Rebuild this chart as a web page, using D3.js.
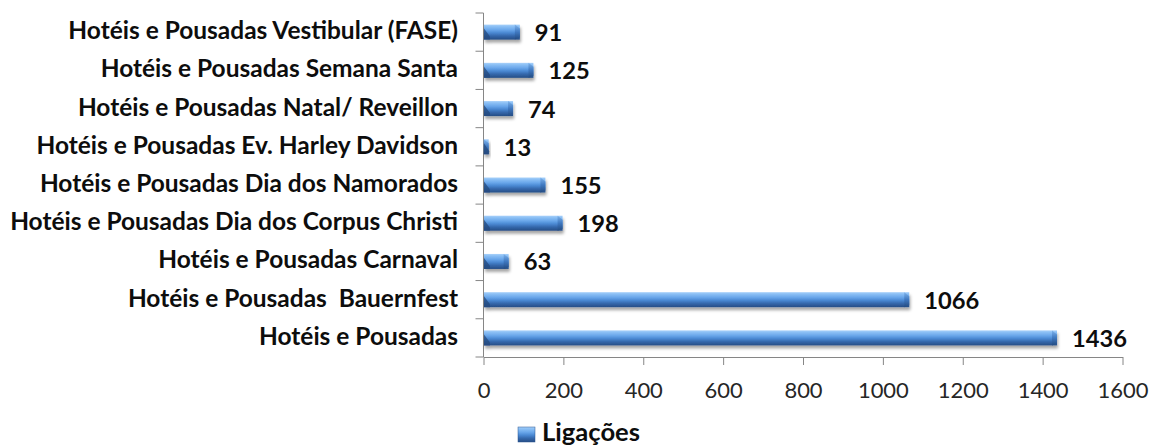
<!DOCTYPE html>
<html>
<head>
<meta charset="utf-8">
<script src="https://cdn.jsdelivr.net/npm/d3@7"></script>
<style>
body{margin:0;background:#fff;}
svg{display:block;}
text{font-family:Lato,"Open Sans",sans-serif;}
</style>
</head>
<body>
<div class="canvas"></div>
<script>
// chart data, top row first
const categories = [
    'Hotéis e Pousadas Vestibular (FASE)',
    'Hotéis e Pousadas Semana Santa',
    'Hotéis e Pousadas Natal/ Reveillon',
    'Hotéis e Pousadas Ev. Harley Davidson',
    'Hotéis e Pousadas Dia dos Namorados',
    'Hotéis e Pousadas Dia dos Corpus Christi',
    'Hotéis e Pousadas Carnaval',
    'Hotéis e Pousadas  Bauernfest',
    'Hotéis e Pousadas'
];
const values = [91, 125, 74, 13, 155, 198, 63, 1066, 1436];
const tickValues = [0, 200, 400, 600, 800, 1000, 1200, 1400, 1600];
const seriesName = 'Ligações';

const dims = {width: 1153, height: 448};
const plot = {left: 483.5, right: 1122.5, top: 13, bottom: 357};
const barH = 15;

const svg = d3.select('.canvas')
    .append('svg')
    .attr('width', dims.width)
    .attr('height', dims.height);

const defs = svg.append('defs');

// cylinder-ish gradient for bars
const grad = defs.append('linearGradient')
    .attr('id', 'barGrad')
    .attr('x1', 0).attr('y1', 0).attr('x2', 0).attr('y2', 1);
[[0, '#a9d1fa'], [0.12, '#8cc0f5'], [0.35, '#69a6ea'], [0.55, '#4a88d2'], [0.75, '#3568ac'], [1, '#264d85']]
    .forEach(s => grad.append('stop').attr('offset', s[0]).attr('stop-color', s[1]));

const capGrad = defs.append('linearGradient')
    .attr('id', 'capGrad')
    .attr('x1', 0).attr('y1', 0).attr('x2', 0).attr('y2', 1);
[[0, '#7fb4ec'], [0.5, '#3f78c0'], [1, '#234a80']]
    .forEach(s => capGrad.append('stop').attr('offset', s[0]).attr('stop-color', s[1]));

const shadow = defs.append('filter').attr('id', 'shadow')
    .attr('x', '-10%').attr('y', '-40%').attr('width', '130%').attr('height', '220%');
shadow.append('feDropShadow')
    .attr('dx', 1).attr('dy', 3).attr('stdDeviation', 1.8)
    .attr('flood-color', '#000').attr('flood-opacity', 0.35);

const x = d3.scaleLinear()
    .domain([0, 1600])
    .range([plot.left, plot.right]);

const y = d3.scaleBand()
    .domain(categories)
    .range([plot.top, plot.bottom])
    .padding(0);

// x axis
const xAxis = d3.axisBottom(x)
    .tickValues(tickValues)
    .tickSize(8)
    .tickSizeOuter(0)
    .tickFormat(d3.format('d'));

const xg = svg.append('g')
    .attr('transform', `translate(0, ${plot.bottom})`)
    .call(xAxis);
xg.select('.domain').attr('stroke', '#868686');
xg.selectAll('.tick line').attr('stroke', '#868686');
xg.selectAll('.tick text')
    .attr('y', 41)
    .attr('dy', 0)
    .attr('fill', '#262626')
    .style('font-family', 'Lato, sans-serif')
    .style('font-size', '22px');

// y axis: line with ticks on band edges
const edges = d3.range(categories.length + 1).map(i => plot.top + i * y.step());
const yg = svg.append('g');
yg.append('line')
    .attr('x1', plot.left).attr('x2', plot.left)
    .attr('y1', plot.top).attr('y2', plot.bottom)
    .attr('stroke', '#868686');
yg.selectAll('line.tk')
    .data(edges)
    .enter().append('line')
    .attr('class', 'tk')
    .attr('x1', plot.left - 8).attr('x2', plot.left)
    .attr('y1', d => d).attr('y2', d => d)
    .attr('stroke', '#868686');

// category labels
const catLabels = svg.append('g').selectAll('text')
    .data(categories)
    .enter().append('text')
    .attr('x', 458)
    .attr('y', d => y(d) + y.bandwidth() / 2 + 7)
    .attr('text-anchor', 'end')
    .attr('font-weight', 'bold')
    .attr('fill', '#0d0d0d')
    .style('white-space', 'pre')
    .style('font-size', '20px')
    .text(d => d);

// bars
const data = categories.map((c, i) => ({name: c, value: values[i]}));
const bars = svg.append('g').selectAll('g')
    .data(data)
    .enter().append('g')
    .attr('filter', 'url(#shadow)');

const barTop = d => y(d.name) + y.bandwidth() / 2 - barH / 2;

bars.append('rect')
    .attr('x', x(0) + 0.5)
    .attr('y', barTop)
    .attr('width', d => x(d.value) - x(0) - 0.5)
    .attr('height', barH)
    .attr('fill', 'url(#barGrad)');

// bevelled right end
bars.append('polygon')
    .attr('points', d => {
        const x1 = x(d.value), t = barTop(d), w = Math.min(5, x1 - x(0));
        return [[x1 - w, t], [x1, t + 4], [x1, t + barH - 2], [x1 - w, t + barH]].join(' ');
    })
    .attr('fill', 'url(#capGrad)');

// dark corner at the left end
bars.append('polygon')
    .attr('points', d => {
        const x0 = x(0) + 0.5, t = barTop(d), w = Math.min(6, x(d.value) - x(0));
        return [[x0, t + 4], [x0 + w, t + barH - 3], [x0 + w, t + barH], [x0, t + barH]].join(' ');
    })
    .attr('fill', '#24497d')
    .attr('opacity', 0.75);

// value labels
svg.append('g').selectAll('text')
    .data(data)
    .enter().append('text')
    .attr('x', d => x(d.value) + 15)
    .attr('y', d => y(d.name) + y.bandwidth() / 2 + 9)
    .attr('font-weight', 'bold')
    .attr('fill', '#0d0d0d')
    .style('font-size', '22px')
    .text(d => d.value);

// legend
const legend = svg.append('g').attr('transform', 'translate(518, 427)');
legend.append('rect')
    .attr('width', 17).attr('height', 15)
    .attr('fill', 'url(#barGrad)')
    .attr('stroke', '#2a5590').attr('stroke-width', 0.5);
legend.append('text')
    .attr('x', 24).attr('y', 14)
    .attr('font-weight', 'bold')
    .attr('fill', '#0d0d0d')
    .style('font-size', '22px')
    .text(seriesName);

// fit font sizes to the reference text widths
const fit = (sel, target) => {
    const w = d3.max(sel.nodes(), n => n.getComputedTextLength());
    const fs = parseFloat(sel.style('font-size'));
    sel.style('font-size', (fs * target / w).toFixed(2) + 'px');
};
fit(catLabels, 448);
fit(xg.selectAll('.tick text').filter(d => d === 1600), 51);
xg.selectAll('.tick text').style('font-size', xg.selectAll('.tick text').filter(d => d === 1600).style('font-size'));
const valTexts = svg.selectAll('g text').filter(d => d && d.value === 1436);
fit(valTexts, 55);
svg.selectAll('g text').filter(d => d && d.value !== undefined).style('font-size', valTexts.style('font-size'));
fit(legend.select('text'), 98);
</script>
</body>
</html>
